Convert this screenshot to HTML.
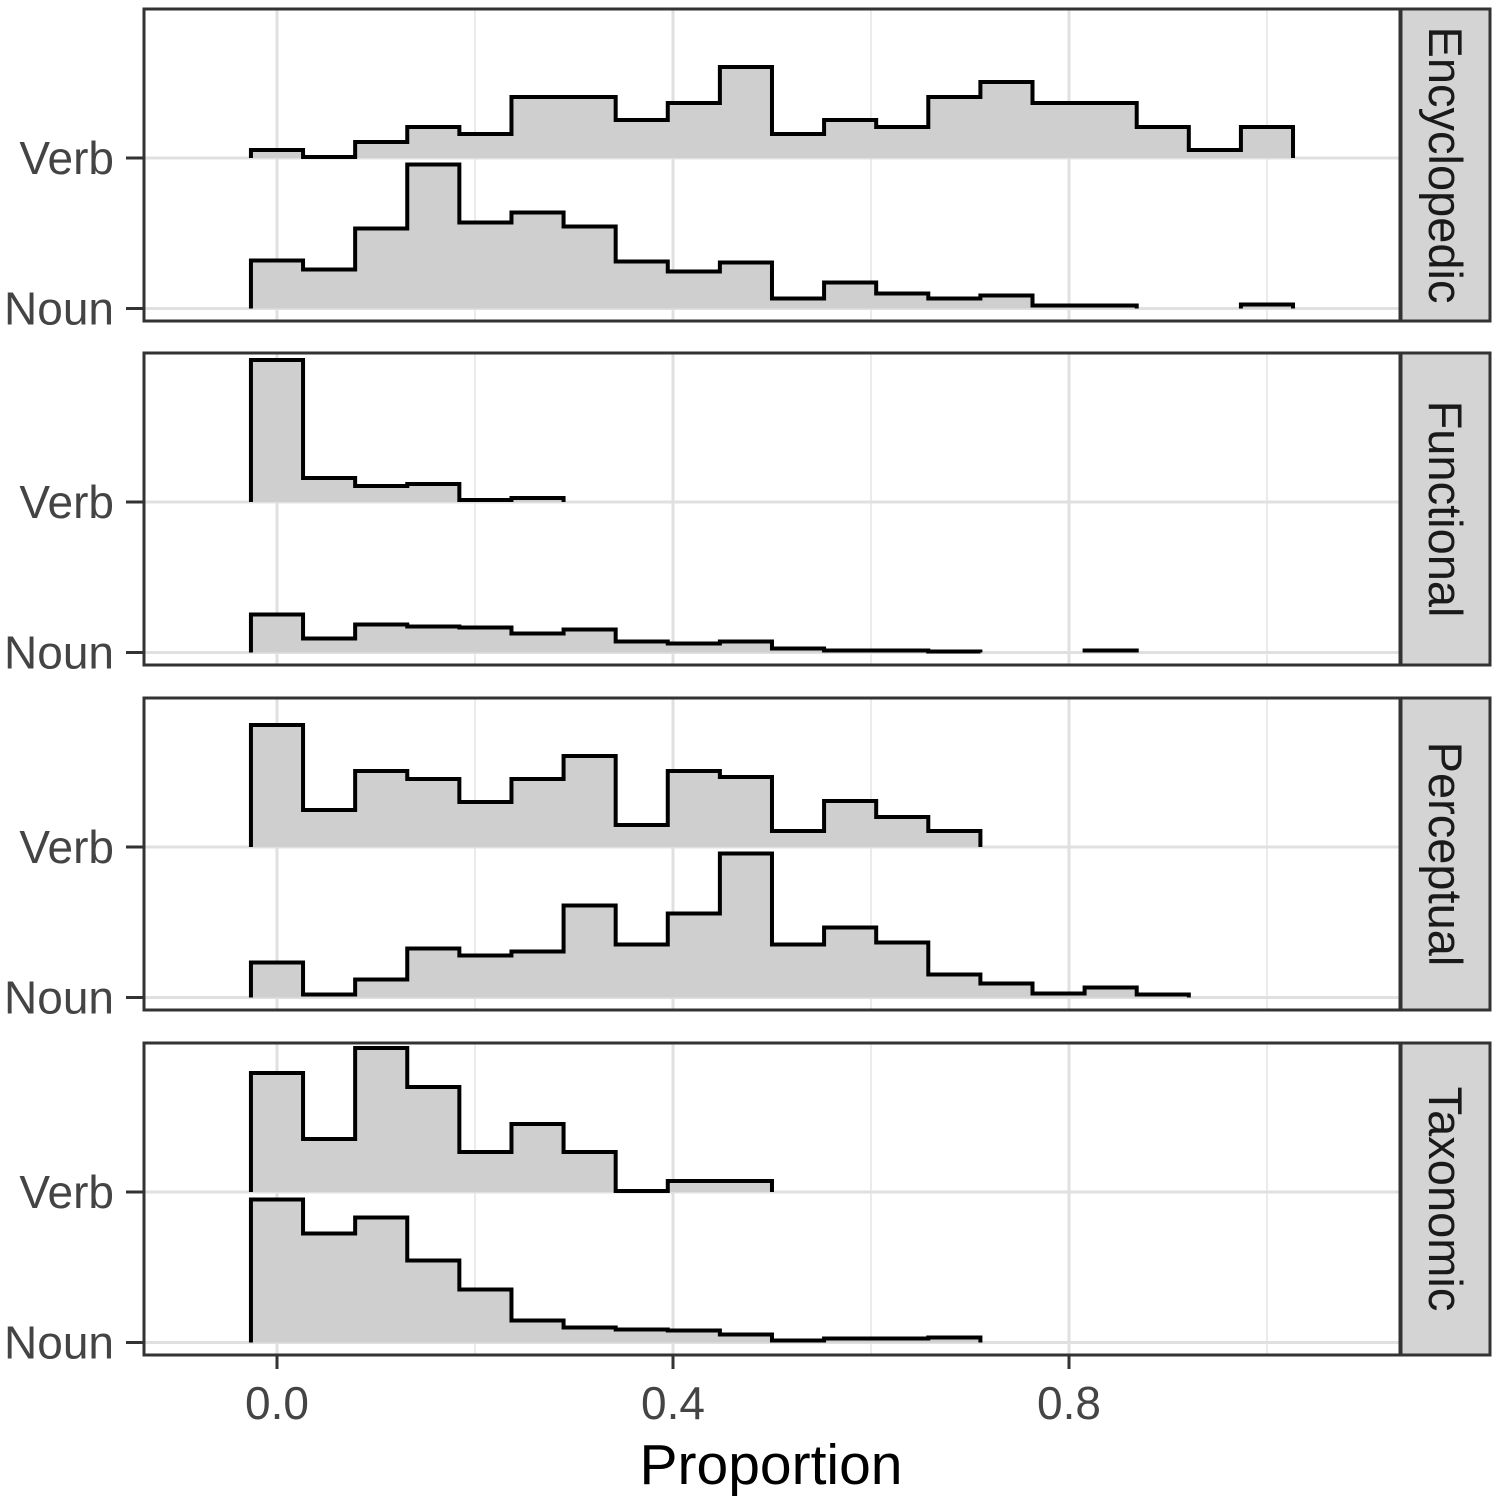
<!DOCTYPE html>
<html><head><meta charset="utf-8"><style>
html,body{margin:0;padding:0;background:#fff;}
svg{display:block;font-family:"Liberation Sans",sans-serif;}
</style></head><body>
<svg id="chart" width="1498" height="1502" viewBox="0 0 1498 1502"></svg>
<script>
const panels = ["Encyclopedic","Functional","Perceptual","Taxonomic"];
const groups = ["Verb","Noun"];
const xTicks = [0.0,0.4,0.8];
const xTickLabels = ["0.0","0.4","0.8"];
const xMinor = [0.2,0.6,1.0];
const binStart = -0.02632;
const binWidth = 0.05263;
// heights per bin (null = empty bin)
const encVerb = [8,1,16,31,24,61,61,38,55,91,24,38,31,61,76,55,55,31,8,31];
const encNoun = [48,39,80,144,86,96,82,47,37,46,10,26,15,10,13,3,3,null,null,4];
const funVerb = [142,24,16,18,2,4];
const funNoun = [38,14,28,26,25,19,23,11,9,11,4,2,2,1,null,null,2];
const perVerb = [122,37,76,68,45,68,91,22,76,70,16,46,30,16];
const perNoun = [35,3,18,49,42,46,92,53,84,144,53,70,55,23,14,4,10,3];
const taxVerb = [119,53,144,105,40,68,40,1,11,11];
const taxNoun = [143,109,125,82,53,22,15,13,12,8,2,4,4,5];
const panelData = [[encVerb,encNoun],[funVerb,funNoun],[perVerb,perNoun],[taxVerb,taxNoun]];

const svg = document.getElementById('chart');
const NS = 'http://www.w3.org/2000/svg';
const L = 144, R = 1400, panelTops = [9,353,698,1043], panelH = 312;
const x = v => 277 + (v - 0) * 990;
const baseY = (p, g) => panelTops[p] + 149 + g * 150.5;
const hScale = 1;
function mk(tag, attrs, parent){const e=document.createElementNS(NS,tag);for(const k in attrs)e.setAttribute(k,attrs[k]);(parent||svg).appendChild(e);return e;}

panels.forEach((name,p)=>{
  const top = panelTops[p];
  const g = mk('g',{});
  
  
  mk('rect',{x:L,y:top,width:R-L,height:panelH,fill:'#fff'},g);
  xMinor.forEach(v=>mk('line',{x1:x(v),x2:x(v),y1:top,y2:top+panelH,stroke:'#ebebeb','stroke-width':2},g));
  xTicks.forEach(v=>mk('line',{x1:x(v),x2:x(v),y1:top,y2:top+panelH,stroke:'#e0e0e0','stroke-width':3},g));
  groups.forEach((gn,gi)=>{
    const by = baseY(p,gi);
    mk('line',{x1:L,x2:R,y1:by,y2:by,stroke:'#e0e0e0','stroke-width':3},g);
  });
  groups.forEach((gn,gi)=>{
    const by = baseY(p,gi);
    const vals = panelData[p][gi];
    let runs=[],cur=null;
    vals.forEach((v,i)=>{ if(v===null){cur=null;return;} if(!cur){cur=[];runs.push(cur);} cur.push([i,v]); });
    runs.forEach(run=>{
      let d='M'+x(binStart+run[0][0]*binWidth)+','+by;
      run.forEach(([i,v])=>{const x0=x(binStart+i*binWidth),x1=x(binStart+(i+1)*binWidth),y=by-v*hScale;d+=' L'+x0+','+y+' L'+x1+','+y;});
      const lastX = x(binStart+(run[run.length-1][0]+1)*binWidth);
      const fill = mk('path',{d:d+' L'+lastX+','+by+' Z',fill:'#cfcfcf',stroke:'none'},g);
      
      
      const line = mk('path',{d:d+' L'+lastX+','+by,fill:'none',stroke:'#000','stroke-width':4,'stroke-linejoin':'miter'},g);
      
      
    });
    mk('line',{x1:126,x2:L,y1:by,y2:by,stroke:'#333','stroke-width':3},g);
    const t = mk('text',{x:114,y:by+16,'text-anchor':'end','font-size':46,fill:'#444'},g);
    t.textContent = gn;
    
    
  });
  mk('rect',{x:L,y:top,width:R-L,height:panelH,fill:'none',stroke:'#333','stroke-width':3},g);
  const s = mk('rect',{x:R+1,y:top,width:89,height:panelH,fill:'#d4d4d4',stroke:'#333','stroke-width':3},g);
  
  
  const st = mk('text',{x:0,y:0,'text-anchor':'middle','font-size':47,fill:'#1a1a1a',transform:'translate(1429,'+(top+panelH/2)+') rotate(90)'},g);
  st.textContent = name;
  
  
});
const bottom = panelTops[3]+panelH;
xTicks.forEach((v,i)=>{
  mk('line',{x1:x(v),x2:x(v),y1:bottom,y2:bottom+14,stroke:'#333','stroke-width':3});
  const t = mk('text',{x:x(v),y:1419,'text-anchor':'middle','font-size':46,fill:'#444'});
  t.textContent = xTickLabels[i];
  
  
});
const xt = mk('text',{x:771,y:1484,'text-anchor':'middle','font-size':57,fill:'#000'});
xt.textContent = 'Proportion';


</script>
</body></html>
